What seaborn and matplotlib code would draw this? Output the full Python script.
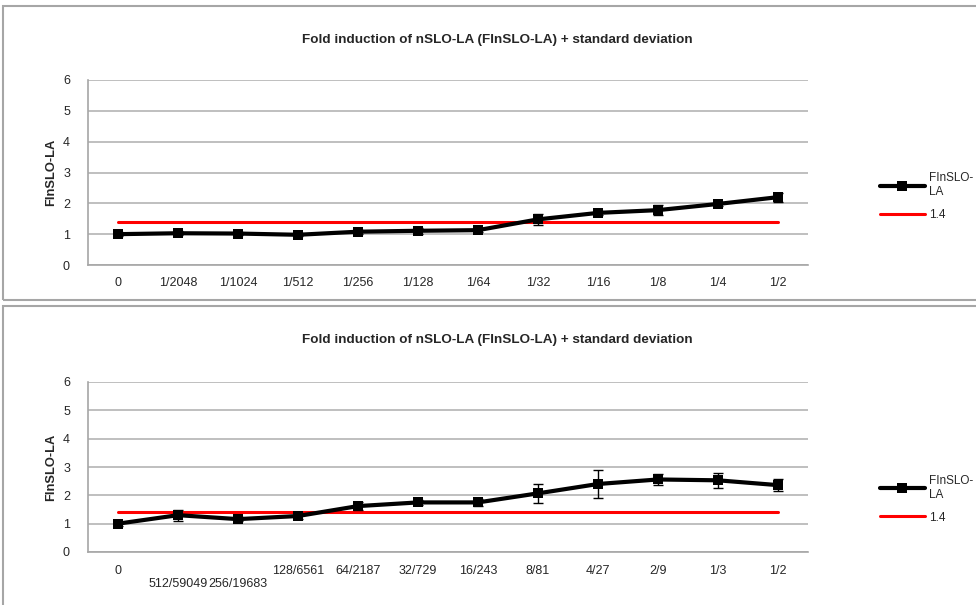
import numpy as np
import pandas as pd
import seaborn as sns
import matplotlib.pyplot as plt
from matplotlib.patches import Rectangle
from matplotlib.ticker import MultipleLocator

# %% data
cats_top = ['0', '1/2048', '1/1024', '1/512', '1/256', '1/128', '1/64',
            '1/32', '1/16', '1/8', '1/4', '1/2']
fi_top = [1.00, 1.03, 1.02, 0.98, 1.08, 1.11, 1.13, 1.48, 1.69, 1.78, 1.98, 2.20]
sd_top = [0.06, 0.06, 0.05, 0.05, 0.06, 0.10, 0.06, 0.18, 0.06, 0.15, 0.07, 0.15]

cats_bottom = ['0', '512/59049', '256/19683', '128/6561', '64/2187', '32/729',
               '16/243', '8/81', '4/27', '2/9', '1/3', '1/2']
fi_bottom = [1.00, 1.30, 1.16, 1.27, 1.62, 1.75, 1.75, 2.07, 2.40, 2.56, 2.53, 2.36]
sd_bottom = [0.07, 0.20, 0.08, 0.09, 0.15, 0.08, 0.12, 0.33, 0.50, 0.18, 0.27, 0.22]

threshold = 1.4
title = 'Fold induction of nSLO-LA (FInSLO-LA) + standard deviation'
ylabel = 'FInSLO-LA'

sns.set_style('white')
plt.rcParams['font.family'] = ['Liberation Sans', 'DejaVu Sans']

W, H = 976, 605
fig = plt.figure(figsize=(W / 100, H / 100), dpi=100)

# chart frames (Excel style boxes)
for (y0, y1) in [(6, 300), (306, 620)]:
    fig.patches.append(Rectangle((3 / W, 1 - y1 / H), 1.2, (y1 - y0) / H,
                                 transform=fig.transFigure, fill=False,
                                 edgecolor='#a6a6a6', linewidth=1.5))


def draw_panel(ax, cats, fi, sd, title_y, leg_y, stagger=()):
    pos = np.arange(len(cats))
    df = pd.DataFrame({'pos': pos, 'fi': fi, 'ref': [threshold] * len(cats)})
    ax.errorbar(pos, fi, yerr=sd, fmt='none', ecolor='black', elinewidth=1,
                capsize=3.8, capthick=1, zorder=5)
    sns.lineplot(data=df, x='pos', y='fi', ax=ax, color='black', linewidth=3,
                 marker='s', markersize=7.5, markeredgewidth=0,
                 label='FInSLO-\nLA', zorder=4)
    sns.lineplot(data=df, x='pos', y='ref', ax=ax, color='#ff0000',
                 linewidth=2.2, label=str(threshold), zorder=2)

    ax.set_xlim(-0.5, len(cats) - 0.5)
    ax.set_ylim(0, 6)
    ax.set_xticks(pos)
    labels = ['\n' + c if i in stagger else c for i, c in enumerate(cats)]
    ax.set_xticklabels(labels, fontsize=9, color='#262626')
    ax.set_xticks(np.arange(-0.5, len(cats)), minor=True)
    ax.tick_params(axis='x', which='major', length=0, pad=9)
    ax.tick_params(axis='x', which='minor', length=5, color='#a6a6a6', width=1)
    ax.yaxis.set_major_locator(MultipleLocator(1))
    ax.yaxis.set_minor_locator(MultipleLocator(0.1))
    ax.tick_params(axis='y', which='major', length=5, color='#a6a6a6', width=1,
                   labelsize=9, labelcolor='#262626', pad=8)
    ax.tick_params(axis='y', which='minor', length=2.5, color='#a6a6a6', width=0.8)
    ax.grid(axis='y', color='#b4b4b4', linewidth=1.2)
    ax.set_axisbelow(True)
    for s in ['top', 'right']:
        ax.spines[s].set_visible(False)
    for s in ['left', 'bottom']:
        ax.spines[s].set_color('#a6a6a6')
        ax.spines[s].set_linewidth(1.2)
    ax.set_xlabel('')
    ax.set_ylabel(ylabel, fontsize=9.3, fontweight='bold', labelpad=4)
    fig.text(497 / W, 1 - title_y / H, title, fontsize=9.7, fontweight='bold',
             ha='center', va='center')
    ax.legend(loc='center left', bbox_to_anchor=(1.085, leg_y), frameon=False,
              fontsize=8.5, handlelength=3.8, labelspacing=0.9,
              handletextpad=0.4)


ax1 = fig.add_axes([88 / W, 1 - 265 / H, 720 / W, 185 / H])
draw_panel(ax1, cats_top, fi_top, sd_top, title_y=40, leg_y=0.37)

ax2 = fig.add_axes([88 / W, 1 - 552 / H, 720 / W, 170 / H])
draw_panel(ax2, cats_bottom, fi_bottom, sd_bottom, title_y=340, leg_y=0.31,
           stagger=(1, 2))

fig.savefig('out.png', dpi=100)
